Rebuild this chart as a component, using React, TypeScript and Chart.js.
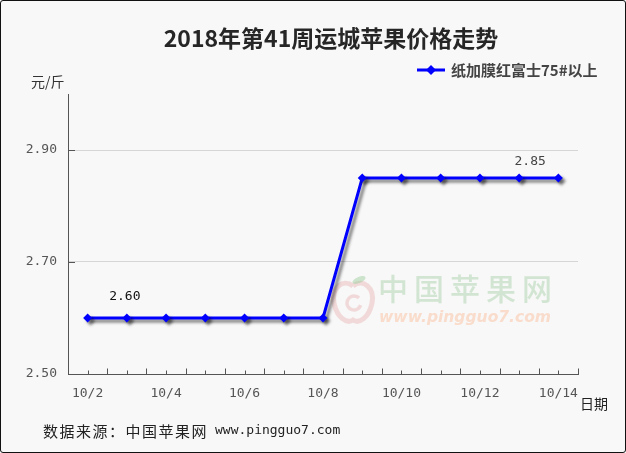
import React, { useEffect, useRef } from 'react';
import { Chart, registerables } from 'chart.js';

Chart.register(...registerables);

const categories = ['10/2', '10/3', '10/4', '10/5', '10/6', '10/7', '10/8', '10/9', '10/10', '10/11', '10/12', '10/13', '10/14'];
const prices = [2.6, 2.6, 2.6, 2.6, 2.6, 2.6, 2.6, 2.85, 2.85, 2.85, 2.85, 2.85, 2.85];
const seriesName = '纸加膜红富士75#以上';
const labeledPoints = [1, 11];
const yMin = 2.5;
const yMax = 3.0;
const yTickValues = [2.5, 2.7, 2.9];
const titleText = '2018年第41周运城苹果价格走势';
const yUnit = '元/斤';
const xTitle = '日期';
const sourceLabel = '数据来源：中国苹果网';
const sourceUrl = 'www.pingguo7.com';
const watermarkCn = '中国苹果网';
const watermarkUrl = 'www.pingguo7.com';

const labelStyles: Record<number, { dx: number; dy: number; color: string }> = {
  1: { dx: -2, dy: -21, color: '#111' },
  11: { dx: 11, dy: -16, color: '#444' },
};

const MONO = '"DejaVu Sans Mono", "Liberation Mono", monospace';
const CJK = '"Noto Sans CJK SC", "Noto Sans", sans-serif';

function drawApple(ctx: CanvasRenderingContext2D, cx: number, cy: number) {
  ctx.save();
  ctx.lineWidth = 5;
  ctx.strokeStyle = 'rgba(228,160,160,0.35)';
  ctx.beginPath();
  ctx.moveTo(cx, cy - 14);
  ctx.bezierCurveTo(cx - 10, cy - 22, cx - 22, cy - 12, cx - 19, cy + 3);
  ctx.bezierCurveTo(cx - 16, cy + 18, cx - 6, cy + 24, cx, cy + 20);
  ctx.bezierCurveTo(cx + 6, cy + 24, cx + 16, cy + 18, cx + 19, cy + 3);
  ctx.bezierCurveTo(cx + 22, cy - 12, cx + 10, cy - 22, cx, cy - 14);
  ctx.stroke();
  ctx.lineWidth = 3.5;
  ctx.beginPath();
  ctx.arc(cx + 1, cy + 3, 7, Math.PI * 0.1, Math.PI * 1.75);
  ctx.stroke();
  ctx.fillStyle = 'rgba(160,205,160,0.5)';
  ctx.beginPath();
  ctx.ellipse(cx + 6, cy - 20, 7, 3, -0.4, 0, Math.PI * 2);
  ctx.fill();
  ctx.restore();
}

const decorPlugin = {
  id: 'decor',
  beforeDraw(chart: any) {
    const ctx = chart.ctx as CanvasRenderingContext2D;
    ctx.save();
    ctx.fillStyle = '#f8f8f8';
    ctx.fillRect(0, 0, chart.width, chart.height);
    ctx.restore();
  },
  beforeDatasetsDraw(chart: any) {
    const ctx = chart.ctx as CanvasRenderingContext2D;
    ctx.save();
    drawApple(ctx, 353, 300);
    ctx.fillStyle = '#d2e5d2';
    ctx.font = `500 30px ${CJK}`;
    ctx.textBaseline = 'middle';
    ctx.textAlign = 'left';
    const chars = Array.from(watermarkCn);
    chars.forEach((c, i) => ctx.fillText(c, 378 + i * 36, 289));
    ctx.font = 'italic bold 16px "DejaVu Sans", sans-serif';
    const w = ctx.measureText(watermarkUrl).width;
    ctx.translate(379, 318);
    ctx.scale(172 / w, 1);
    ctx.fillStyle = '#f9dccb';
    ctx.fillText(watermarkUrl, 0, 0);
    ctx.restore();
  },
  beforeDatasetDraw(chart: any) {
    const ctx = chart.ctx as CanvasRenderingContext2D;
    ctx.save();
    ctx.shadowColor = 'rgba(0,0,0,0.5)';
    ctx.shadowOffsetX = 3;
    ctx.shadowOffsetY = 3;
    ctx.shadowBlur = 3;
  },
  afterDatasetDraw(chart: any) {
    chart.ctx.restore();
  },
  afterDatasetsDraw(chart: any) {
    const ctx = chart.ctx as CanvasRenderingContext2D;
    const meta = chart.getDatasetMeta(0);
    ctx.save();
    ctx.font = `13px ${MONO}`;
    ctx.textAlign = 'center';
    ctx.textBaseline = 'middle';
    labeledPoints.forEach((idx) => {
      const pt = meta.data[idx];
      const st = labelStyles[idx] || { dx: 0, dy: -18, color: '#333' };
      ctx.fillStyle = st.color;
      ctx.fillText(prices[idx].toFixed(2), pt.x + st.dx, pt.y + st.dy);
    });
    ctx.restore();
  },
  afterDraw(chart: any) {
    const ctx = chart.ctx as CanvasRenderingContext2D;
    const xs = chart.scales.x;
    const ys = chart.scales.y;
    const area = chart.chartArea;
    ctx.save();
    ctx.strokeStyle = '#555';
    ctx.lineWidth = 1;
    const step = xs.getPixelForValue(1) - xs.getPixelForValue(0);
    const bottom = Math.round(area.bottom) + 0.5;
    ctx.beginPath();
    categories.forEach((_, i) => {
      const c = Math.round(xs.getPixelForValue(i)) + 0.5;
      ctx.moveTo(c, bottom);
      ctx.lineTo(c, bottom - 4);
      const b = Math.round(xs.getPixelForValue(i) + step / 2) + 0.5;
      ctx.moveTo(b, bottom);
      ctx.lineTo(b, bottom - 6);
    });
    ys.ticks.forEach((t: any) => {
      if (Math.abs(t.value - yMin) < 1e-6) return;
      const y = Math.round(ys.getPixelForValue(t.value)) + 0.5;
      ctx.moveTo(area.left, y);
      ctx.lineTo(area.left + 7, y);
    });
    ctx.stroke();

    ctx.fillStyle = '#262626';
    ctx.font = `bold 23px ${CJK}`;
    ctx.textAlign = 'center';
    ctx.textBaseline = 'middle';
    ctx.fillText(titleText, 331, 38);

    ctx.strokeStyle = '#0000ff';
    ctx.lineWidth = 3;
    ctx.beginPath();
    ctx.moveTo(417, 70);
    ctx.lineTo(445, 70);
    ctx.stroke();
    ctx.fillStyle = '#0000ff';
    ctx.beginPath();
    ctx.moveTo(431, 65);
    ctx.lineTo(436, 70);
    ctx.lineTo(431, 75);
    ctx.lineTo(426, 70);
    ctx.closePath();
    ctx.fill();
    ctx.fillStyle = '#444';
    ctx.font = `bold 15px ${CJK}`;
    ctx.textAlign = 'left';
    ctx.fillText(seriesName, 451, 70);

    ctx.fillStyle = '#333';
    ctx.font = `14px ${CJK}`;
    ctx.fillText(yUnit, 31, 82);

    ctx.fillStyle = '#222';
    ctx.font = `14px ${CJK}`;
    ctx.fillText(xTitle, 580, 404);

    ctx.fillStyle = '#222';
    ctx.font = `15px ${CJK}`;
    (ctx as any).letterSpacing = '1.5px';
    ctx.fillText(sourceLabel, 43, 431);
    (ctx as any).letterSpacing = '0px';
    ctx.font = `13px ${MONO}`;
    ctx.fillText(sourceUrl, 215, 431);
    ctx.restore();
  },
};

export default function App() {
  const canvasRef = useRef<HTMLCanvasElement | null>(null);

  useEffect(() => {
    if (!canvasRef.current) return;
    const chart = new Chart(canvasRef.current, {
      type: 'line',
      data: {
        labels: categories,
        datasets: [
          {
            label: seriesName,
            data: prices,
            borderColor: '#0000ff',
            backgroundColor: '#0000ff',
            borderWidth: 3,
            pointStyle: 'rectRot',
            pointRadius: 4.5,
            pointBorderWidth: 0,
            pointBackgroundColor: '#0000ff',
            tension: 0,
            fill: false,
          },
        ],
      },
      options: {
        animation: false,
        responsive: false,
        events: [],
        layout: { padding: { top: 94, right: 48, left: 0, bottom: 0 } },
        plugins: {
          legend: { display: false },
          title: { display: false },
          tooltip: { enabled: false },
        },
        scales: {
          x: {
            type: 'category',
            offset: true,
            grid: { display: false, drawTicks: false },
            border: { display: true, color: '#555', width: 1 },
            ticks: {
              autoSkip: false,
              maxRotation: 0,
              padding: 12,
              color: '#555',
              font: { family: MONO, size: 13 },
              callback: (_v: any, i: number) => (i % 2 === 0 ? categories[i] : ''),
            },
            afterFit: (s: any) => {
              s.height = 79;
            },
          },
          y: {
            min: yMin,
            max: yMax,
            afterBuildTicks: (s: any) => {
              s.ticks = yTickValues.map((v) => ({ value: v }));
            },
            ticks: {
              padding: 11,
              color: '#555',
              font: { family: MONO, size: 13 },
              callback: (v: any) => Number(v).toFixed(2),
            },
            grid: {
              drawTicks: false,
              color: (c: any) =>
                c.tick && Math.abs(c.tick.value - yMin) < 1e-6 ? 'rgba(0,0,0,0)' : '#d6d6d6',
            },
            border: { display: true, color: '#555', width: 1 },
            afterFit: (s: any) => {
              s.width = 68;
            },
          },
        },
      } as any,
      plugins: [decorPlugin as any],
    });
    return () => chart.destroy();
  }, []);

  return (
    <div style={{ position: 'fixed', left: 0, top: 0, width: 626, height: 453 }}>
      <canvas ref={canvasRef} width={626} height={453} style={{ display: 'block', width: 626, height: 453 }} />
      <div
        style={{
          position: 'absolute',
          left: 0,
          top: 0,
          width: 626,
          height: 453,
          boxSizing: 'border-box',
          border: '1px solid #111',
          borderRadius: 3,
          pointerEvents: 'none',
        }}
      />
    </div>
  );
}
